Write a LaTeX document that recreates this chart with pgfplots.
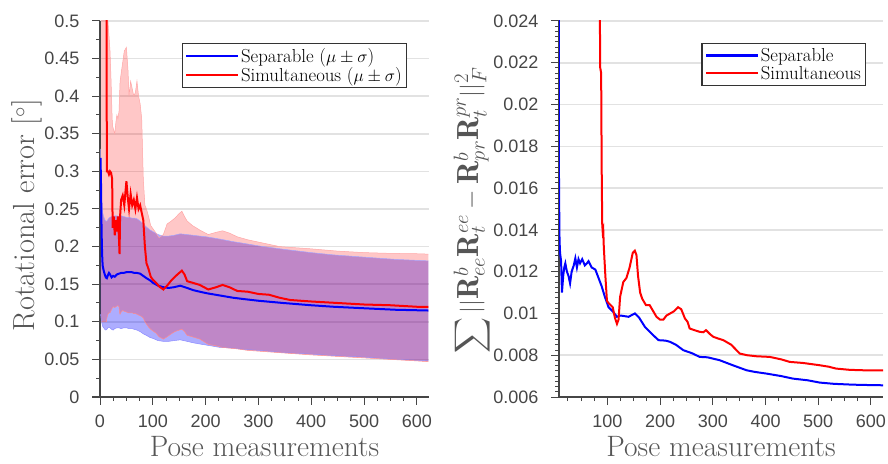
\documentclass[border=0pt]{standalone}
\usepackage{fontspec}
\usepackage{exscale}
\usepackage{pgfplots}
\usepackage{pgfplotstable}
\pgfplotsset{compat=1.18}
\usepgfplotslibrary{fillbetween}
\newfontfamily\tickfont{Liberation Sans}
\definecolor{axgray}{RGB}{70,70,70}
\definecolor{labgray}{RGB}{85,85,85}
\definecolor{gridgray}{RGB}{226,226,226}

\pgfplotstableread{
x mean lo hi
1 0.318 0.110 0.330
2 0.280 0.105 0.300
3 0.220 0.100 0.265
4 0.190 0.097 0.250
5 0.175 0.094 0.245
7 0.168 0.092 0.240
9 0.163 0.090 0.236
11 0.159 0.089 0.234
13 0.158 0.090 0.234
15 0.162 0.092 0.236
17 0.165 0.093 0.238
19 0.163 0.092 0.239
22 0.159 0.090 0.240
25 0.161 0.089 0.240
28 0.160 0.091 0.241
32 0.163 0.092 0.241
36 0.164 0.092 0.240
40 0.165 0.091 0.241
45 0.165 0.092 0.240
50 0.166 0.092 0.239
55 0.166 0.091 0.239
60 0.166 0.091 0.238
65 0.165 0.090 0.238
70 0.165 0.089 0.237
76 0.164 0.087 0.234
82 0.161 0.084 0.230
88 0.158 0.082 0.226
95 0.155 0.079 0.222
100 0.152 0.078 0.220
110 0.148 0.075 0.216
120 0.146 0.074 0.214
130 0.145 0.074 0.214
140 0.146 0.075 0.215
152 0.148 0.076 0.217
165 0.145 0.074 0.216
177 0.142 0.072 0.215
189 0.140 0.0705 0.214
202 0.138 0.069 0.213
227 0.135 0.066 0.210
252 0.132 0.065 0.2066
275 0.130 0.063 0.204
300 0.128 0.062 0.201
347 0.125 0.059 0.1965
400 0.122 0.057 0.192
442 0.120 0.055 0.189
500 0.118 0.053 0.186
560 0.116 0.050 0.183
622 0.115 0.048 0.181
}\sepL

\pgfplotstableread{
x mean lo hi
2 0.90 0.100 1.20
6 0.85 0.100 1.20
10 0.75 0.100 1.10
12 0.60 0.100 1.00
13 0.300 0.105 0.60
15 0.300 0.110 0.50
17 0.296 0.112 0.48
19 0.300 0.112 0.46
21 0.298 0.115 0.42
23 0.290 0.118 0.37
24 0.225 0.119 0.36
26 0.240 0.120 0.355
28 0.215 0.119 0.35
30 0.235 0.120 0.365
32 0.220 0.121 0.375
34 0.240 0.1215 0.37
36 0.210 0.120 0.38
37 0.190 0.112 0.40
38 0.240 0.110 0.42
40 0.262 0.113 0.43
43 0.268 0.115 0.445
46 0.255 0.114 0.46
50 0.287 0.113 0.465
53 0.262 0.112 0.435
55 0.250 0.112 0.40
58 0.270 0.112 0.42
61 0.255 0.112 0.41
64 0.262 0.111 0.40
67 0.250 0.111 0.405
70 0.265 0.110 0.42
73 0.250 0.109 0.40
76 0.255 0.108 0.39
79 0.245 0.107 0.37
82 0.235 0.105 0.29
85 0.200 0.100 0.255
88 0.178 0.097 0.25
92 0.170 0.093 0.24
96 0.160 0.090 0.228
100 0.156 0.088 0.224
106 0.152 0.085 0.218
112 0.147 0.080 0.212
120 0.143 0.077 0.216
127 0.148 0.080 0.230
135 0.155 0.084 0.234
142 0.160 0.087 0.238
150 0.165 0.089 0.244
155 0.168 0.090 0.247
160 0.163 0.087 0.240
165 0.154 0.082 0.234
175 0.152 0.080 0.228
189 0.149 0.077 0.222
205 0.143 0.070 0.216
220 0.146 0.068 0.219
232 0.149 0.066 0.221
245 0.146 0.065 0.218
260 0.141 0.064 0.213
280 0.140 0.062 0.209
300 0.137 0.061 0.206
320 0.136 0.060 0.203
340 0.132 0.059 0.200
360 0.129 0.058 0.199
400 0.127 0.056 0.197
450 0.125 0.054 0.194
500 0.123 0.052 0.192
550 0.122 0.050 0.191
600 0.120 0.048 0.1905
622 0.120 0.047 0.190
}\simL

\pgfplotstableread{
x y
7.6 0.0300
8 0.0160
9 0.0135
10 0.0129
12 0.0125
13.6 0.0110
16 0.0118
18 0.0122
20 0.0124
23 0.0120
26 0.0118
29 0.01144
32 0.0120
36 0.0123
39 0.01264
42 0.0122
45 0.0126
48 0.0124
52 0.0126
57 0.0123
61 0.0124
64 0.0125
70 0.0122
77 0.0121
83 0.0117
89 0.0113
95 0.0108
102 0.0103
110 0.0101
118 0.00984
125 0.0099
140 0.00984
152 0.0100
160 0.0098
171 0.00936
185 0.0090
197 0.00872
210 0.0087
219 0.00864
230 0.0085
244 0.00824
260 0.0081
275 0.00792
290 0.0079
313 0.00776
340 0.0075
364 0.00728
380 0.0072
402 0.00712
430 0.0070
452 0.00688
480 0.0068
503 0.00669
530 0.00663
566 0.00659
600 0.00657
625 0.00656
}\sepR

\pgfplotstableread{
x y
85 0.0300
86 0.0218
88 0.0215
89 0.0170
90 0.0143
91 0.0139
92 0.0140
93 0.0132
96 0.0118
99 0.0106
102 0.0105
106 0.0104
110 0.0103
114 0.0098
118 0.0095
121 0.0097
124 0.0108
130 0.0115
136 0.0117
142 0.0122
148 0.0129
152 0.0130
155 0.0128
158 0.0118
162 0.0110
166 0.0107
173 0.0104
180 0.0104
187 0.0101
193 0.00984
200 0.0097
206 0.0097
212 0.0099
219 0.0100
226 0.0101
234 0.0103
240 0.0102
247 0.00976
252 0.0096
256 0.00928
265 0.0092
275 0.00912
282 0.0091
287 0.0092
295 0.0090
301 0.00888
310 0.0088
320 0.00872
335 0.0085
351 0.00808
365 0.0080
383 0.00795
408 0.00792
430 0.0078
446 0.00768
471 0.00763
503 0.00752
520 0.00745
534 0.00736
560 0.0073
585 0.00728
625 0.00728
}\simR

\pgfplotsset{
  myaxis/.style={
    scale only axis, anchor=south west,
    axis x line=bottom, axis y line=left,
    axis line style={-, draw=axgray, line width=1.3pt},
    tick align=outside, major tick length=8pt, minor tick length=4pt,
    every tick/.style={draw=axgray, line width=1pt},
    ymajorgrids, grid style={draw=gridgray, line width=1.5pt},
    scaled y ticks=false, scaled x ticks=false,
    /pgf/number format/assume math mode=true,
    tick label style={font=\tickfont\fontsize{18}{21}\selectfont, text=axgray},
    xticklabel style={inner sep=0pt, yshift=-10pt},
    yticklabel style={xshift=-9pt},
    label style={font=\fontsize{30.5}{34}\selectfont, text=labgray},
    xlabel style={at={(axis description cs:0.5,-0.157)}, anchor=base, inner sep=0pt,
      font=\fontsize{29.5}{32}\selectfont},
    legend style={draw=black!80, line width=1.2pt, fill=white,
      font=\fontsize{18.8}{21}\selectfont, text=black,
      inner xsep=3pt, inner ysep=3pt, row sep=0pt,
      nodes={inner sep=1.6pt}},
    legend cell align=left,
    legend image code/.code={\draw[#1, line width=2.2pt] (0pt,0pt) -- (52pt,0pt);},
  }
}

\begin{document}
\begin{tikzpicture}

\begin{axis}[myaxis,
  at={(100pt,66pt)}, width=329pt, height=376pt,
  xmin=0, xmax=623, ymin=0, ymax=0.5,
  xtick={0,100,200,300,400,500,600},
  minor xtick={25,50,75,125,150,175,225,250,275,325,350,375,425,450,475,525,550,575,625},
  ytick={0,0.05,0.1,0.15,0.2,0.25,0.3,0.35,0.4,0.45,0.5},
  yticklabels={0,0.05,0.1,0.15,0.2,0.25,0.3,0.35,0.4,0.45,0.5},
  minor y tick num=1,
  xlabel={Pose measurements},
  ylabel={Rotational error [$^\circ$]},
  ylabel style={at={(axis description cs:-0.222,0.483)}, anchor=center},
  legend style={at={(0.933,0.9415)}, anchor=north east},
]
\addplot[name path=sU, draw=blue!35, line width=0.5pt, forget plot] table[x=x,y=hi]{\sepL};
\addplot[name path=sL, draw=blue!45, line width=0.5pt, forget plot] table[x=x,y=lo]{\sepL};
\addplot[fill=blue, fill opacity=0.32, draw=none, forget plot] fill between[of=sU and sL];
\addplot[name path=rU, draw=red!35, line width=0.5pt, forget plot] table[x=x,y=hi]{\simL};
\addplot[name path=rL, draw=red!45, line width=0.5pt, forget plot] table[x=x,y=lo]{\simL};
\addplot[fill=red, fill opacity=0.22, draw=none, forget plot] fill between[of=rU and rL];
\addplot[blue, line width=2pt] table[x=x,y=mean]{\sepL};
\addlegendentry{Separable ($\mu \pm \sigma$)}
\addplot[red, line width=2pt] table[x=x,y=mean]{\simL};
\addlegendentry{Simultaneous ($\mu \pm \sigma$)}
\end{axis}

\begin{axis}[myaxis,
  at={(559pt,66pt)}, width=324pt, height=376pt,
  xmin=8, xmax=623, ymin=0.006, ymax=0.024,
  xtick={100,200,300,400,500,600},
  minor xtick={25,50,75,125,150,175,225,250,275,325,350,375,425,450,475,525,550,575},
  ytick={0.006,0.008,0.010,0.012,0.014,0.016,0.018,0.020,0.022,0.024},
  yticklabels={0.006,0.008,0.01,0.012,0.014,0.016,0.018,0.02,0.022,0.024},
  minor y tick num=7,
  xlabel={Pose measurements},
  ylabel={$\displaystyle\sum ||\mathbf{R}^{b}_{ee}\mathbf{R}^{ee}_{t}-\mathbf{R}^{b}_{pr}\mathbf{R}^{pr}_{t}||^2_F$},
  ylabel style={at={(axis description cs:-0.268,0.497)}, anchor=center},
  legend style={at={(0.948,0.9415)}, anchor=north east},
]
\addplot[blue, line width=2pt] table[x=x,y=y]{\sepR};
\addlegendentry{Separable}
\addplot[red, line width=2pt] table[x=x,y=y]{\simR};
\addlegendentry{Simultaneous}
\end{axis}
\pgfresetboundingbox
\path[use as bounding box] (0pt,0pt) rectangle (888pt,463pt);
\end{tikzpicture}
\end{document}
